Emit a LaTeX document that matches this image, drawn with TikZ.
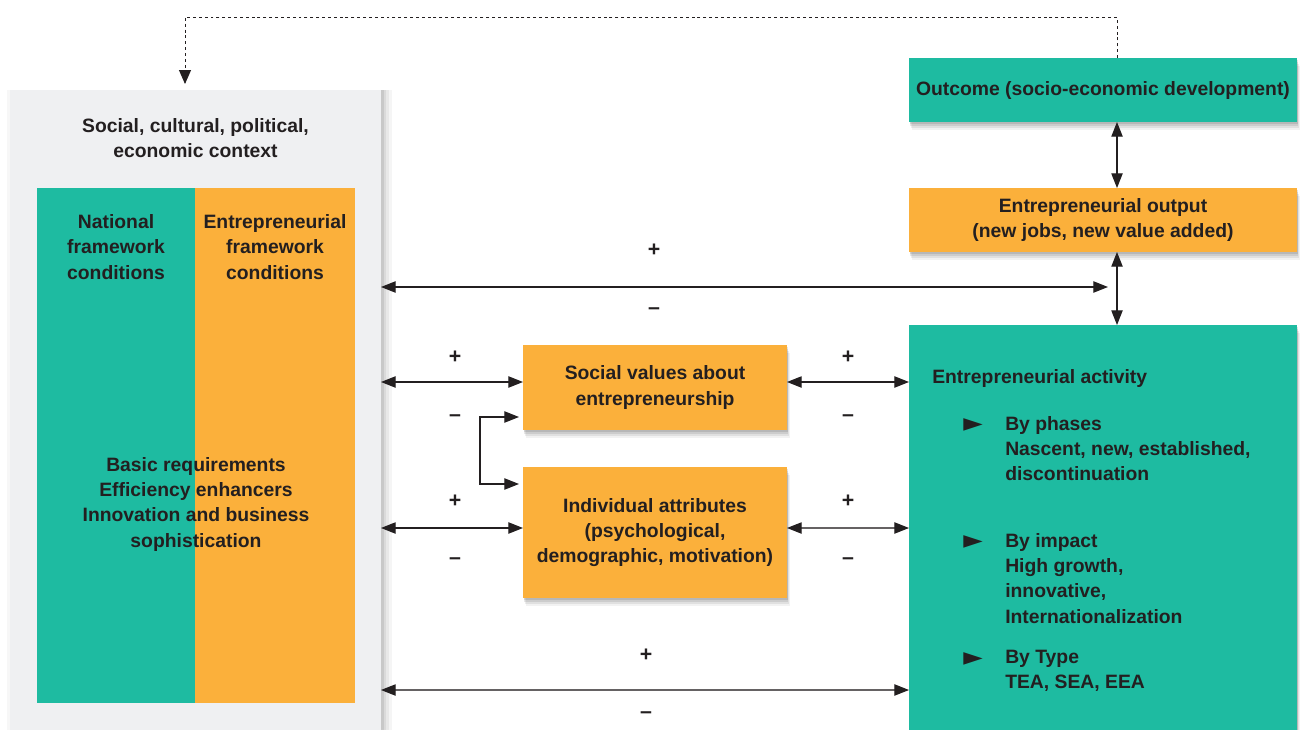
\documentclass[tikz,border=0pt]{standalone}
\usepackage{fontspec}
\setmainfont{Liberation Sans}
\newfontfamily\symfont{DejaVu Sans}
\usetikzlibrary{arrows.meta}
\definecolor{teal1}{HTML}{1EBBA1}
\definecolor{orng}{HTML}{FBB03B}
\definecolor{ctxgray}{HTML}{EFF0F2}
\definecolor{ink}{HTML}{231F20}
\begin{document}
\begin{tikzpicture}[x=0.75pt,y=-0.75pt,
  font=\fontsize{14.5}{19}\selectfont\bfseries, text=ink,
  box/.style={rectangle, inner sep=0pt, outer sep=0pt, align=center},
  sbox/.style={box,
    preaction={fill=black, fill opacity=0.10, transform canvas={shift={(0.5pt,-1.5pt)}}},
    preaction={fill=black, fill opacity=0.09, transform canvas={shift={(1pt,-3pt)}}},
    preaction={fill=black, fill opacity=0.07, transform canvas={shift={(1.5pt,-4.5pt)}}},
    preaction={fill=black, fill opacity=0.05, transform canvas={shift={(2pt,-6pt)}}}},
  cbox/.style={box,
    preaction={fill=black, fill opacity=0.08, transform canvas={shift={(2pt,0pt)}}},
    preaction={fill=black, fill opacity=0.06, transform canvas={shift={(4pt,0pt)}}},
    preaction={fill=black, fill opacity=0.05, transform canvas={shift={(6pt,0pt)}}},
    preaction={fill=black, fill opacity=0.04, transform canvas={shift={(8pt,0pt)}}},
    preaction={fill=black, fill opacity=0.03, transform canvas={shift={(-2pt,0pt)}}}},
  txt/.style={inner sep=0pt, align=center},
  conn/.style={draw=ink, line width=0.9pt, {Triangle[length=11pt,width=8.5pt,color=ink]}-{Triangle[length=11pt,width=8.5pt,color=ink]}},
  gconn/.style={conn, draw=ink!70},
  dconn/.style={draw=ink, line width=0.7pt, dash pattern=on 2.2pt off 2.2pt, -{Triangle[length=10.5pt,width=9pt,color=ink]}},
  sign/.style={inner sep=0pt, font=\fontsize{16}{19}\selectfont\bfseries},
  bul/.style={inner sep=0pt, anchor=base west, font=\symfont\fontsize{19}{19}\selectfont}
]
\useasboundingbox (0,0) rectangle (1301,729);
\fill[white] (0,0) rectangle (1301,729);

% context box
\node[cbox, fill=ctxgray, minimum width=278.25pt, minimum height=487.5pt] (ctx) at (195.5,415) {};
\node[box, fill=teal1, minimum width=118.5pt, minimum height=386.25pt] (natl) at (116,445.5) {};
\node[box, fill=orng, minimum width=120pt, minimum height=386.25pt] (efc) at (275,445.5) {};
\node[txt] (ctxt) at (195.5,138) {Social, cultural, political,\\economic context};
\node[txt] (natlt) at (116,247) {National\\framework\\conditions};
\node[txt] (efct) at (275,247) {Entrepreneurial\\framework\\conditions};
\node[txt] (basic) at (196,504) {Basic requirements\\Efficiency enhancers\\Innovation and business\\sophistication};

% right column
\node[sbox, fill=teal1, minimum width=291pt, minimum height=48pt] (outcome) at (1103,90) {Outcome (socio-economic development)};
\node[sbox, fill=orng, minimum width=291pt, minimum height=48pt] (output) at (1103,220) {Entrepreneurial output\\(new jobs, new value added)};
\node[sbox, fill=teal1, minimum width=291pt, minimum height=311.25pt] (activity) at (1103,532.5) {};

% middle boxes
\node[sbox, fill=orng, minimum width=198pt, minimum height=63.75pt] (social) at (655,387.5) {Social values about\\entrepreneurship};
\node[sbox, fill=orng, minimum width=198pt, minimum height=98.25pt] (indiv) at (655,532.5) {Individual attributes\\(psychological,\\demographic, motivation)};

% activity text
\node[inner sep=0pt, anchor=base west] (eat) at (932,383) {Entrepreneurial activity};
\node[bul] (b1) at (963,431) {►};
\node[bul] (b2) at (963,548) {►};
\node[bul] (b3) at (963,665) {►};
\node[inner sep=0pt, anchor=north west, align=left] (ph) at (1005,416) {By phases\\Nascent, new, established,\\discontinuation};
\node[inner sep=0pt, anchor=north west, align=left] (im) at (1005,533) {By impact\\High growth,\\innovative,\\Internationalization};
\node[inner sep=0pt, anchor=north west, align=left] (ty) at (1005,650) {By Type\\TEA, SEA, EEA};

% helper coordinates
\coordinate (xv) at (1117,0);
\coordinate (ya) at (0,287);
\coordinate (yb) at (0,382);
\coordinate (yc) at (0,528);
\coordinate (yd) at (0,690);
\coordinate (hend) at (1108,287);
\coordinate (fb) at (185,17);
\coordinate (brx) at (480,0);
\coordinate (bry1) at (0,417);
\coordinate (bry2) at (0,484);

% connectors
\draw[conn] (ctx.east |- ya) -- (hend);
\draw[conn] (ctx.east |- yb) -- (social.west |- yb);
\draw[conn] (social.east |- yb) -- (activity.west |- yb);
\draw[conn] (ctx.east |- yc) -- (indiv.west |- yc);
\draw[gconn] (indiv.east |- yc) -- (activity.west |- yc);
\draw[gconn] (ctx.east |- yd) -- (activity.west |- yd);
\draw[conn] (xv |- outcome.south) -- (xv |- output.north);
\draw[conn] (xv |- output.south) -- (xv |- activity.north);
\draw[conn, shorten <=3pt, shorten >=3pt] (social.west |- bry1) -| (brx |- bry2) -- (indiv.west |- bry2);
\draw[dconn, shorten >=4.5pt] (xv |- outcome.north) |- (fb) -- (fb |- ctx.north);

% signs
\node[sign] (p1) at (654,250) {+};
\node[sign] (m1) at (654,311) {–};
\node[sign] (p2) at (455,357) {+};
\node[sign] (m2) at (455,418) {–};
\node[sign] (p3) at (848,357) {+};
\node[sign] (m3) at (848,418) {–};
\node[sign] (p4) at (455,501) {+};
\node[sign] (m4) at (455,561) {–};
\node[sign] (p5) at (848,501) {+};
\node[sign] (m5) at (848,561) {–};
\node[sign] (p6) at (646,655) {+};
\node[sign] (m6) at (646,715) {–};
\end{tikzpicture}
\end{document}
